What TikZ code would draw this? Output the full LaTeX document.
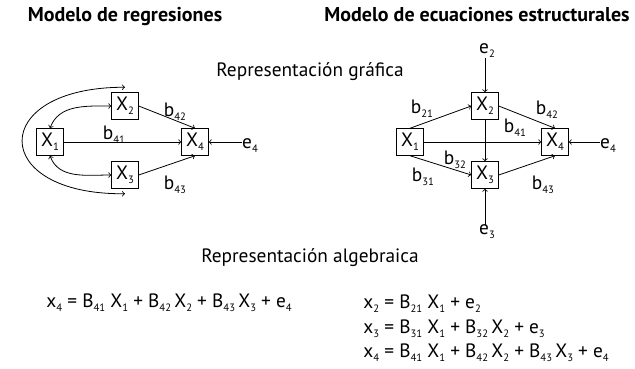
\documentclass[tikz,border=0pt]{standalone}
\usepackage{fontspec}
\setmainfont{PT Sans}
\usetikzlibrary{arrows}

\newcommand{\lo}[1]{\raisebox{-3pt}{\footnotesize #1}}
\newcommand{\txtsize}{\fontsize{14.5}{16}\selectfont}

\begin{document}
\begin{tikzpicture}[->,x=0.75pt,y=0.75pt,line width=0.6pt,
  every node/.style={font=\txtsize},
  var/.style={draw,minimum size=20pt,inner sep=0pt},
  lbl/.style={inner sep=0pt},
  eq/.style={inner sep=0pt,anchor=base west},
  title/.style={font=\fontsize{15}{17}\selectfont\bfseries,anchor=base}]
\useasboundingbox (0,0) rectangle (635,368);

% titulos
\node[title] (t1) at (125,346) {Modelo de regresiones};
\node[title] (t2) at (477,346) {Modelo de ecuaciones estructurales};
\node[anchor=base] (rg) at (310,291) {Representación gráfica};
\node[anchor=base] (ra) at (310,106) {Representación algebraica};

% modelo de regresiones
\node[var] (A1) at (50,226) {X\lo{1}};
\node[var] (A2) at (125,262) {X\lo{2}};
\node[var] (A3) at (125,193) {X\lo{3}};
\node[var] (A4) at (195,226) {X\lo{4}};
\node[lbl] (Ae4) at (250,222) {e\lo{4}};

\node[lbl] (Ab42) at (175,256) {b\lo{42}};
\node[lbl] (Ab41) at (114,233) {b\lo{41}};
\node[lbl] (Ab43) at (175,183) {b\lo{43}};

\path (A1) edge (A4)
      (A2.east) edge (A4.north)
      (A3.east) edge (A4.south)
      (A4.east -| Ae4.west) edge (A4.east);
\draw[<->] (A1.north) to[out=70,in=180] (A2.west);
\draw[<->] (A1.south) to[out=-70,in=180] (A3.west);
\draw[<->] ([yshift=3.75pt]A2.north) .. controls (-12,281) and (-12,173) .. ([yshift=-3.75pt]A3.south);

% modelo de ecuaciones estructurales
\node[var] (B1) at (410,226) {X\lo{1}};
\node[var] (B2) at (485,262) {X\lo{2}};
\node[var] (B3) at (485,193) {X\lo{3}};
\node[var] (B4) at (555,226) {X\lo{4}};
\node[lbl] (Be2) at (487,317) {e\lo{2}};
\node[lbl] (Be3) at (487,136) {e\lo{3}};
\node[lbl] (Be4) at (608,222) {e\lo{4}};

\node[lbl] (Bb21) at (422,259) {b\lo{21}};
\node[lbl] (Bb31) at (423,191) {b\lo{31}};
\node[lbl] (Bb32) at (455,208) {b\lo{32}};
\node[lbl] (Bb41) at (515,240) {b\lo{41}};
\node[lbl] (Bb42) at (547,258) {b\lo{42}};
\node[lbl] (Bb43) at (543,183) {b\lo{43}};

\path (B1.north) edge (B2.west)
      (B1.south) edge (B3.west)
      (B1) edge (B4)
      (B2) edge (B3)
      (B2.east) edge (B4.north)
      (B3.east) edge (B4.south)
      (B2.north |- Be2.south) edge (B2.north)
      (B3.south |- Be3.north) edge (B3.south)
      (B4.east -| Be4.west) edge (B4.east);

% ecuaciones
\node[eq] (eqA) at (46,61) {x\lo{4} = B\lo{41} X\lo{1} + B\lo{42}\,X\lo{2} + B\lo{43}\,X\lo{3} + e\lo{4}};
\node[eq] (eqB2) at (363,60) {x\lo{2} = B\lo{21} X\lo{1} + e\lo{2}};
\node[eq] (eqB3) at (363,35) {x\lo{3} = B\lo{31} X\lo{1} + B\lo{32}\,X\lo{2} + e\lo{3}};
\node[eq] (eqB4) at (363,11) {x\lo{4} = B\lo{41} X\lo{1} + B\lo{42}\,X\lo{2} + B\lo{43}\,X\lo{3} + e\lo{4}};
\end{tikzpicture}
\end{document}
